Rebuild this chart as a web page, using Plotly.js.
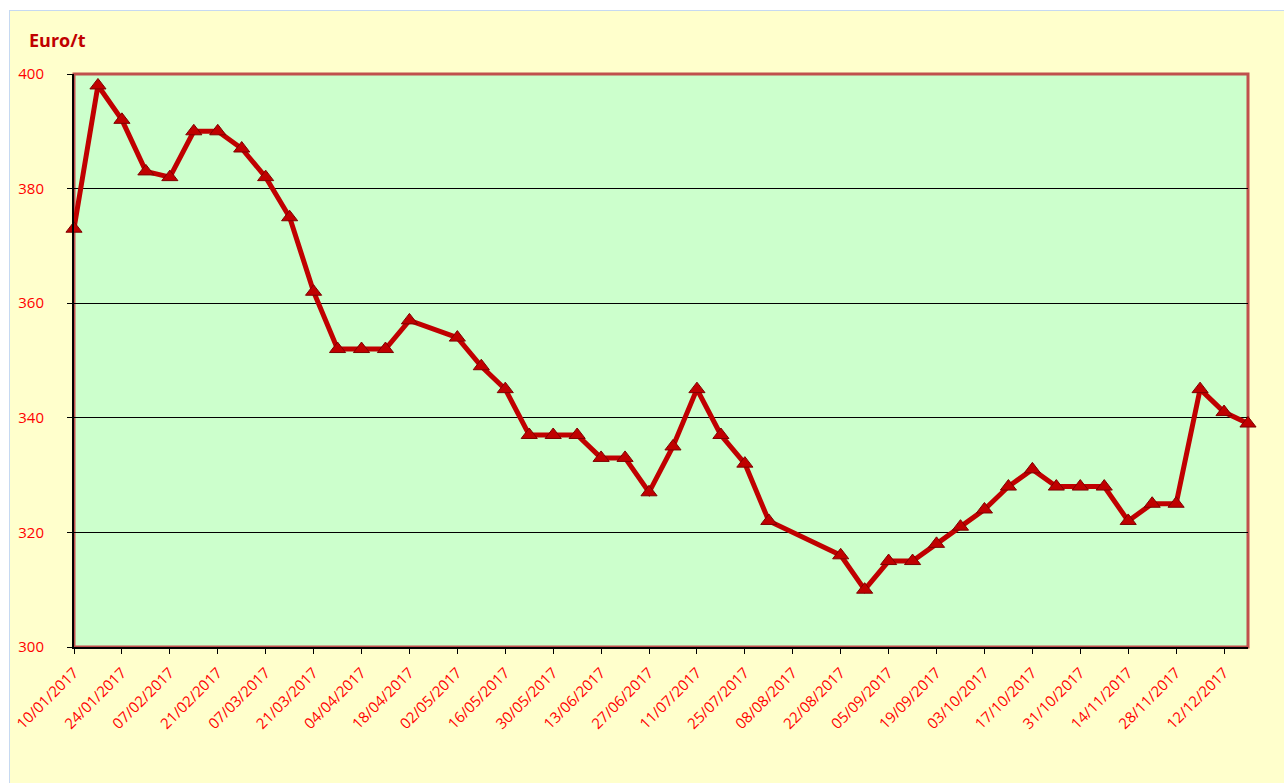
<!DOCTYPE html>
<html>
<head>
<meta charset="utf-8">
<script src="https://cdn.plot.ly/plotly-3.0.1.min.js"></script>
<style>
  html, body { margin: 0; padding: 0; background: #ffffff; width: 1284px; height: 783px; overflow: hidden; }
  #frame { position: absolute; left: 9px; top: 10px; width: 1275px; height: 773px;
           border-left: 1px solid #C6D9F1; border-top: 1px solid #C6D9F1; background: #FFFFCC; box-sizing: border-box; }
  #chart { width: 1274px; height: 772px; }
</style>
</head>
<body>
<div id="frame"><div id="chart"></div></div>
<script>
const dates = [
  '2017-01-10','2017-01-17','2017-01-24','2017-01-31','2017-02-07','2017-02-14','2017-02-21','2017-02-28',
  '2017-03-07','2017-03-14','2017-03-21','2017-03-28','2017-04-04','2017-04-11','2017-04-18',
  '2017-05-02','2017-05-09','2017-05-16','2017-05-23','2017-05-30','2017-06-06','2017-06-13','2017-06-20','2017-06-27',
  '2017-07-04','2017-07-11','2017-07-18','2017-07-25','2017-08-01',
  '2017-08-22','2017-08-29','2017-09-05','2017-09-12','2017-09-19','2017-09-26',
  '2017-10-03','2017-10-10','2017-10-17','2017-10-24','2017-10-31',
  '2017-11-07','2017-11-14','2017-11-21','2017-11-28','2017-12-05','2017-12-12','2017-12-19'
];
const prices = [
  373, 398, 392, 383, 382, 390, 390, 387,
  382, 375, 362, 352, 352, 352, 357,
  354, 349, 345, 337, 337, 337, 333, 333, 327,
  335, 345, 337, 332, 322,
  316, 310, 315, 315, 318, 321,
  324, 328, 331, 328, 328,
  328, 322, 325, 325, 345, 341, 339
];
const yTicks = [300, 320, 340, 360, 380, 400];
const unitLabel = 'Euro/t';

const trace = {
  x: dates, y: prices, type: 'scatter', mode: 'lines+markers',
  line: { color: '#C00000', width: 5 },
  marker: { symbol: 'triangle-up', size: 14, color: '#C00000', line: { color: '#7F0000', width: 1 } },
  cliponaxis: false, hoverinfo: 'x+y'
};

const layout = {
  width: 1274, height: 772,
  margin: { l: 64, r: 36, t: 63, b: 136 },
  paper_bgcolor: '#FFFFCC',
  plot_bgcolor: '#CCFFCC',
  showlegend: false,
  font: { family: 'Open Sans, sans-serif', color: '#FF0000', size: 15 },
  xaxis: {
    type: 'date',
    range: ['2017-01-10', '2017-12-19'],
    tick0: '2017-01-10', dtick: 14 * 86400000,
    tickformat: '%d/%m/%Y', tickangle: -45,
    ticks: 'outside', ticklen: 5, tickcolor: '#000000', tickwidth: 1,
    ticklabelstandoff: 4,
    showgrid: false, zeroline: false,
    showline: true, linecolor: '#000000', linewidth: 2,
    tickfont: { family: 'Open Sans, sans-serif', color: '#FF0000', size: 15 },
    layer: 'above traces'
  },
  yaxis: {
    range: [300, 400], tickvals: yTicks,
    ticks: 'outside', ticklen: 5, tickcolor: '#000000', tickwidth: 1,
    ticklabelstandoff: 20,
    showgrid: true, gridcolor: '#000000', gridwidth: 1,
    zeroline: false,
    showline: true, linecolor: '#000000', linewidth: 2,
    tickfont: { family: 'Open Sans, sans-serif', color: '#FF0000', size: 15 },
    layer: 'above traces'
  },
  shapes: [{
    type: 'rect', xref: 'paper', yref: 'paper', x0: 0, x1: 1, y0: 0, y1: 1,
    line: { color: '#C0504D', width: 3 }, layer: 'between'
  }],
  annotations: [{
    text: '<b>' + unitLabel + '</b>', xref: 'paper', yref: 'paper',
    x: -0.040, y: 1.059, xanchor: 'left', yanchor: 'middle', showarrow: false,
    font: { family: 'Open Sans, sans-serif', size: 18, color: '#C00000' }
  }]
};

Plotly.newPlot('chart', [trace], layout, { displayModeBar: false, staticPlot: true });
</script>
</body>
</html>
